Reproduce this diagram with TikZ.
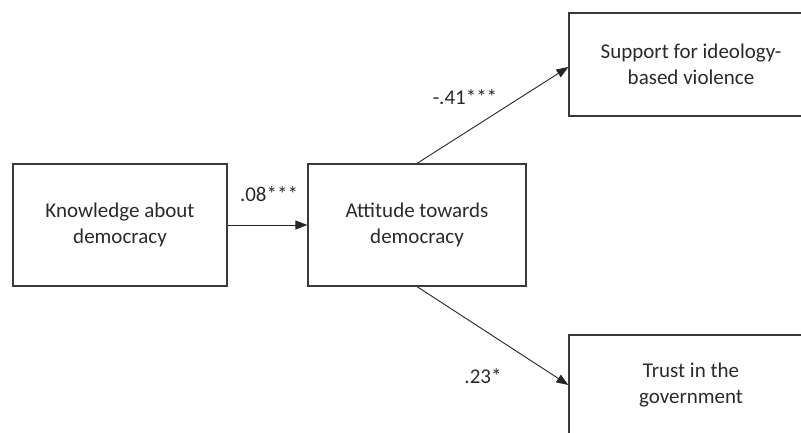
\documentclass[tikz,border=0pt]{standalone}
\usepackage{fontspec}
\setmainfont{Carlito}
\usetikzlibrary{arrows.meta}
\definecolor{boxline}{HTML}{3A3A3A}
\definecolor{txt}{HTML}{2A2A2A}
\begin{document}
\begin{tikzpicture}[x=1pt,y=-1pt,
  box/.style={draw=boxline,line width=1.2pt,rectangle,inner sep=0pt,
    align=center,text=txt,font=\fontsize{21}{26}\selectfont},
  conn/.style={draw=black!85,line width=0.9pt,-{Triangle[length=12pt,width=9pt]}},
  lab/.style={text=txt,font=\fontsize{21}{26}\selectfont,inner sep=0pt}]
\useasboundingbox (0,0) rectangle (801,433);
\clip (0,0) rectangle (801,433);
\node[box,minimum width=214pt,minimum height=122pt] (know) at (120,225) {Knowledge about\\democracy};
\node[box,minimum width=218pt,minimum height=122pt] (att) at (417,225) {Attitude towards\\democracy};
\node[box,minimum width=244pt,minimum height=103pt] (sup) at (691,64.5) {Support for ideology-\\based violence};
\node[box,minimum width=244pt,minimum height=100pt] (trust) at (691,385) {Trust in the\\government};
\draw[conn] (know.east) -- (att.west);
\draw[conn] (att.north) -- ([yshift=-2.5pt]sup.west);
\draw[conn] (att.south) -- (trust.west);
\node[lab] (l1) at (269,194) {.08***};
\node[lab] (l2) at (465,97) {-.41***};
\node[lab] (l3) at (483,376) {.23*};
\end{tikzpicture}
\end{document}
